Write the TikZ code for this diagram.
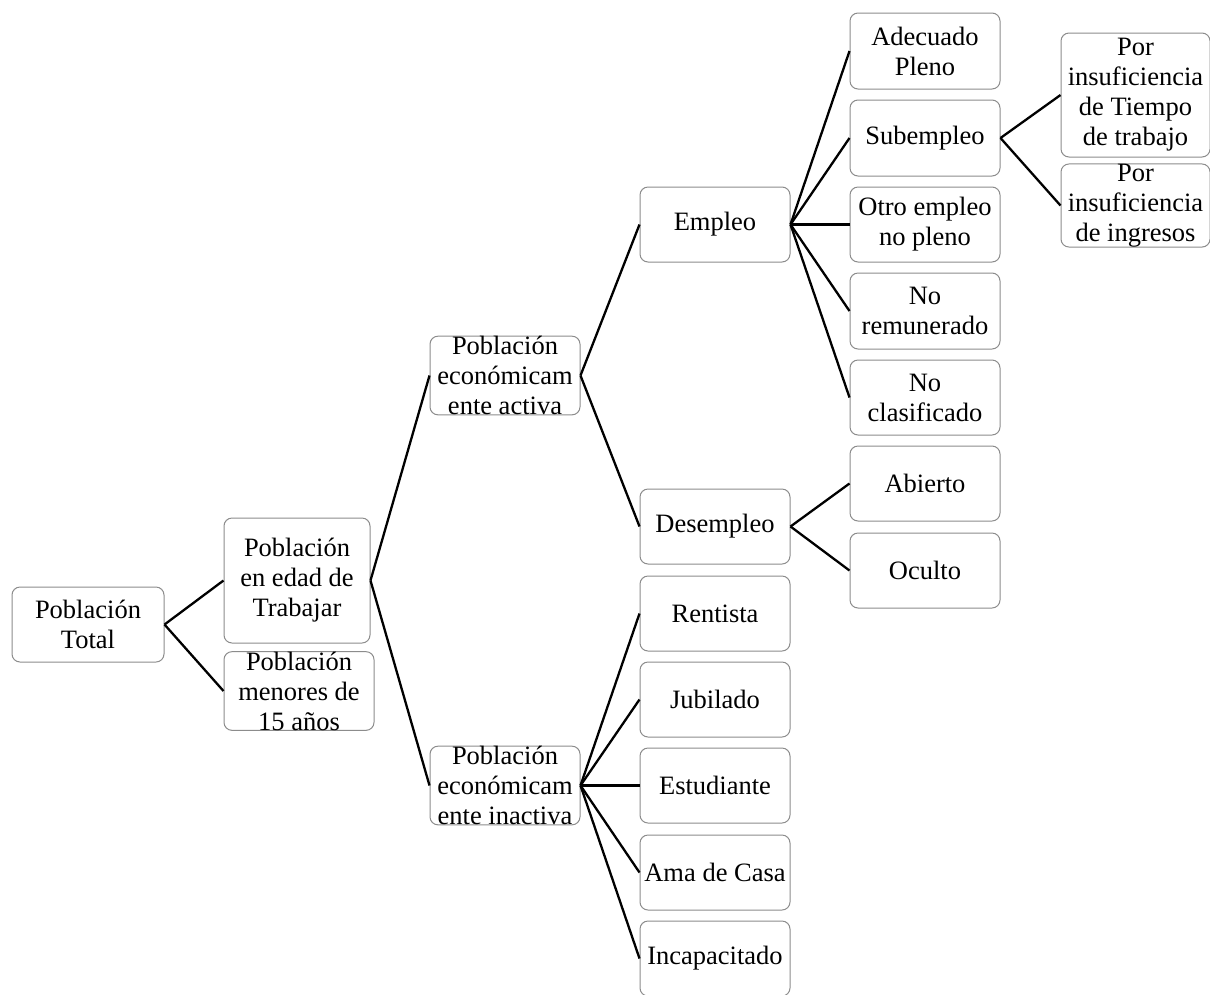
\documentclass[tikz,border=0pt]{standalone}
\usepackage{fontspec}
\setmainfont{Liberation Serif}
\begin{document}
\begin{tikzpicture}[x=1pt,y=-1pt,
  box/.style={draw=black!45, line width=1pt, rounded corners=8pt, fill=white,
    minimum width=150pt, minimum height=75pt, inner sep=0pt, align=center,
    font=\fontsize{26.5}{30}\selectfont},
  link/.style={line width=2.3pt, black}]
\useasboundingbox (0,0) rectangle (1210,994);
% column 0
\node[box, minimum width=152pt] (total) at (88,624.5) {Población\\Total};
% column 1
\node[box, minimum width=146pt, minimum height=125pt] (edad) at (297,580.5) {Población\\en edad de\\Trabajar};
\node[box, minimum height=74pt] (menores) at (299,691) {Población\\menores de\\15 años};
% column 2
\node[box, minimum height=77pt] (activa) at (505,375.5) {Población\\económicam\\ente activa};
\node[box, minimum height=77pt] (inactiva) at (505,785.5) {Población\\económicam\\ente inactiva};
% column 3
\node[box] (empleo) at (715,224.5) {Empleo};
\node[box] (desempleo) at (715,526.5) {Desempleo};
\node[box] (rentista) at (715,613.5) {Rentista};
\node[box] (jubilado) at (715,699.5) {Jubilado};
\node[box] (estudiante) at (715,785.5) {Estudiante};
\node[box] (ama) at (715,872.5) {Ama de Casa};
\node[box] (incap) at (715,958.5) {Incapacitado};
% column 4
\node[box, minimum height=76pt] (adecuado) at (925,51) {Adecuado\\Pleno};
\node[box, minimum height=76pt] (sub) at (925,138) {Subempleo};
\node[box] (otro) at (925,224.5) {Otro empleo\\no pleno};
\node[box, minimum height=76pt] (noremu) at (925,311) {No\\remunerado};
\node[box] (noclas) at (925,397.5) {No\\clasificado};
\node[box] (abierto) at (925,483.5) {Abierto};
\node[box] (oculto) at (925,570.5) {Oculto};
% column 5
\node[box, minimum width=149pt, minimum height=124pt] (tiempo) at (1135.5,95) {Por\\insuficiencia\\de Tiempo\\de trabajo};
\node[box, minimum width=149pt] (ingresos) at (1135.5,205.5) {Por\\insuficiencia\\de ingresos};
% connectors
\draw[link] (total.east) -- (edad.west);
\draw[link] (total.east) -- (menores.west);
\draw[link] (edad.east) -- (activa.west);
\draw[link] (edad.east) -- (inactiva.west);
\draw[link] (activa.east) -- (empleo.west);
\draw[link] (activa.east) -- (desempleo.west);
\foreach \c in {rentista,jubilado,estudiante,ama,incap}
  \draw[link] (inactiva.east) -- (\c.west);
\foreach \c in {adecuado,sub,otro,noremu,noclas}
  \draw[link] (empleo.east) -- (\c.west);
\draw[link] (desempleo.east) -- (abierto.west);
\draw[link] (desempleo.east) -- (oculto.west);
\draw[link] (sub.east) -- (tiempo.west);
\draw[link] (sub.east) -- (ingresos.west);
\end{tikzpicture}
\end{document}
